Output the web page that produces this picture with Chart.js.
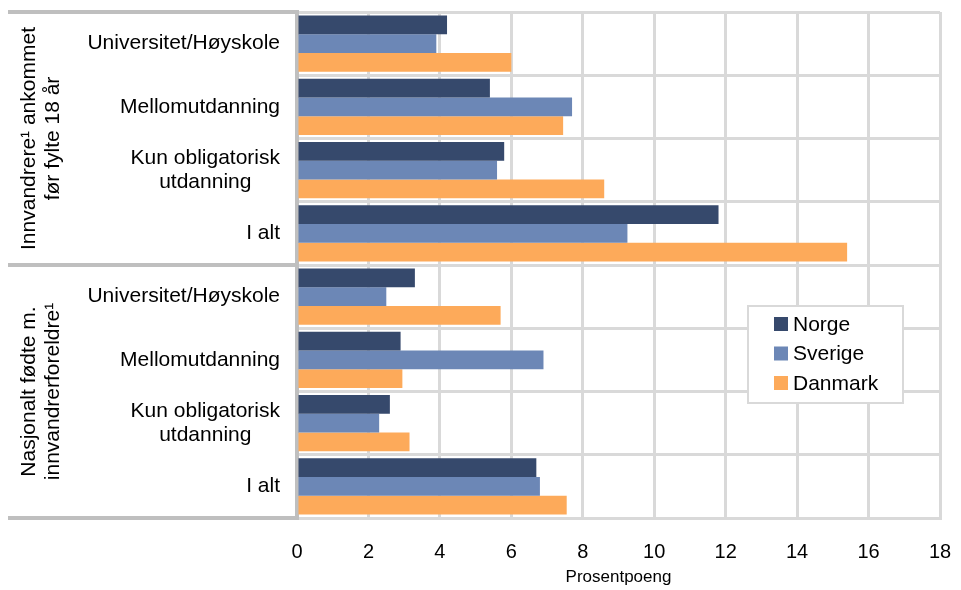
<!DOCTYPE html>
<html>
<head>
<meta charset="utf-8">
<script src="https://cdn.jsdelivr.net/npm/chart.js@4"></script>
<style>
  html, body { margin: 0; padding: 0; background: #fff; }
  #wrap { width: 961px; height: 590px; position: relative; }
</style>
</head>
<body>
<div id="wrap"><canvas id="myChart"></canvas></div>
<script>
const categories = [
    ["Universitet/Høyskole"], ["Mellomutdanning"], ["Kun obligatorisk", "utdanning"], ["I alt"],
    ["Universitet/Høyskole"], ["Mellomutdanning"], ["Kun obligatorisk", "utdanning"], ["I alt"]
];
const groups = [
    ["Innvandrere¹ ankommet", "før fylte 18 år"],
    ["Nasjonalt fødte m.", "innvandrerforeldre¹"]
];
const norge = [4.2, 5.4, 5.8, 11.8, 3.3, 2.9, 2.6, 6.7];
const sverige = [3.9, 7.7, 5.6, 9.25, 2.5, 6.9, 2.3, 6.8];
const danmark = [6.0, 7.45, 8.6, 15.4, 5.7, 2.95, 3.15, 7.55];
const xTicks = [0, 2, 4, 6, 8, 10, 12, 14, 16, 18];

const FONT = '"Liberation Sans", Arial, sans-serif';
const GRID = "#d9d9d9";
const AXIS = "#bfbfbf";

Chart.defaults.font.family = FONT;
Chart.defaults.color = "#000";

// category labels, group labels, separators and legend
const extras = {
    id: "extras",
    afterDraw(chart) {
        const ctx = chart.ctx;
        const area = chart.chartArea;
        const y = chart.scales.y;
        const half = (y.getPixelForValue(3) + y.getPixelForValue(4)) / 2;

        ctx.save();
        // separators out into label column
        ctx.strokeStyle = AXIS;
        ctx.lineWidth = 4;
        [area.top, half, area.bottom].forEach(function (py) {
            ctx.beginPath();
            ctx.moveTo(8, py);
            ctx.lineTo(area.left, py);
            ctx.stroke();
        });

        // category labels: block right aligned, lines centred
        ctx.font = "21px " + FONT;
        ctx.fillStyle = "#000";
        ctx.textAlign = "center";
        ctx.textBaseline = "middle";
        const lh = 24;
        for (let i = 0; i < categories.length; i++) {
            let lines = categories[i];
            let w = Math.max.apply(null, lines.map(l => ctx.measureText(l).width));
            let cx = area.left - 17 - w / 2;
            let cy = y.getPixelForValue(i) - (lines.length - 1) * lh / 2;
            lines.forEach(function (l, k) {
                ctx.fillText(l, cx, cy + k * lh);
            });
        }

        // rotated group labels
        const mids = [(area.top + half) / 2, (half + area.bottom) / 2];
        groups.forEach(function (g, gi) {
            ctx.save();
            ctx.translate(41, mids[gi]);
            ctx.rotate(-Math.PI / 2);
            g.forEach(function (l, k) {
                ctx.fillText(l, 0, (k - 0.5) * 24);
            });
            ctx.restore();
        });

        // legend box
        const bx = area.right - 192, by = area.top + 294, bw = 155, bh = 97;
        ctx.fillStyle = "#fff";
        ctx.fillRect(bx, by, bw, bh);
        ctx.strokeStyle = GRID;
        ctx.lineWidth = 2;
        ctx.strokeRect(bx, by, bw, bh);
        ctx.textAlign = "left";
        chart.data.datasets.forEach(function (ds, i) {
            let ry = by + 18 + i * 29.5;
            ctx.fillStyle = ds.backgroundColor;
            ctx.fillRect(bx + 26, ry - 7, 14, 14);
            ctx.fillStyle = "#000";
            ctx.fillText(ds.label, bx + 45, ry + 1);
        });
        ctx.restore();
    }
};

const data = {
    labels: categories,
    datasets: [
        { label: "Norge", backgroundColor: "#36496c", data: norge },
        { label: "Sverige", backgroundColor: "#6c87b6", data: sverige },
        { label: "Danmark", backgroundColor: "#fdaa5a", data: danmark }
    ]
};

const config = {
    type: "bar",
    data: data,
    plugins: [extras],
    options: {
        indexAxis: "y",
        responsive: true,
        maintainAspectRatio: false,
        animation: false,
        layout: { padding: { top: 12, right: 21, bottom: 2, left: 0 } },
        datasets: { bar: { categoryPercentage: 0.89, barPercentage: 1.0 } },
        plugins: {
            legend: { display: false },
            tooltip: { enabled: false }
        },
        scales: {
            x: {
                min: 0,
                max: 18,
                afterBuildTicks: function (scale) {
                    scale.ticks = xTicks.map(v => ({ value: v }));
                },
                afterFit: function (scale) {
                    scale.height = 70;
                    // tick padding is for the gap below the plot only
                    scale.paddingLeft = 0;
                    scale.paddingRight = 0;
                },
                grid: { color: GRID, lineWidth: 3, drawTicks: false },
                border: { color: GRID, width: 3 },
                ticks: { padding: 22, maxRotation: 0, font: { size: 20 } },
                title: {
                    display: true,
                    text: "Prosentpoeng",
                    font: { size: 17 },
                    padding: { top: 6, bottom: 0 }
                }
            },
            y: {
                grid: { color: GRID, lineWidth: 3, drawTicks: false },
                border: { color: AXIS, width: 4 },
                ticks: { display: false },
                afterFit: function (scale) { scale.width = 297; }
            }
        }
    }
};

const myChart = new Chart(document.getElementById("myChart"), config);
</script>
</body>
</html>
